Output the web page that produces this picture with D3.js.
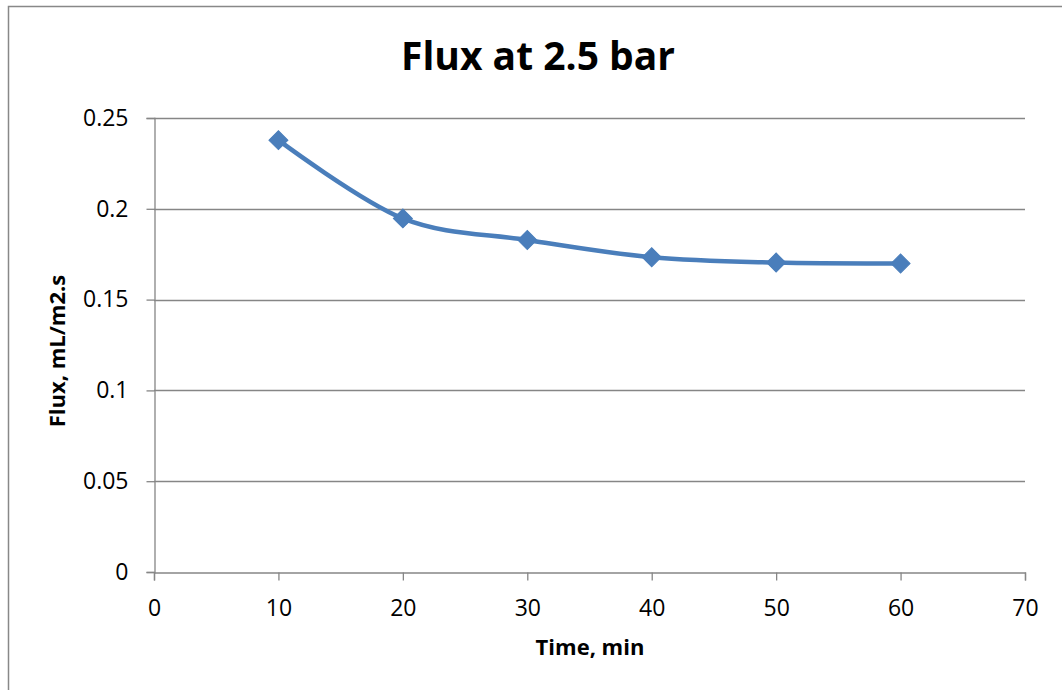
<!DOCTYPE html>
<html>
<head>
<meta charset="utf-8">
<script src="https://cdn.jsdelivr.net/npm/d3@7"></script>
<style>
  html, body { margin: 0; padding: 0; background: #fff; }
  svg { display: block; }
</style>
</head>
<body>
<svg id="chart" width="1062" height="690"></svg>
<script>
// Permeate flux measured over time at 2.5 bar
const timeMin = [10, 20, 30, 40, 50, 60];
const fluxValues = [0.2378, 0.1947, 0.1828, 0.1733, 0.1704, 0.1699];
const xTicks = [0, 10, 20, 30, 40, 50, 60, 70];
const yTicks = [0, 0.05, 0.1, 0.15, 0.2, 0.25];
const chartTitle = "Flux at 2.5 bar";
const xTitle = "Time, min";
const yTitle = "Flux, mL/m2.s";

const svg = d3.select("#chart");
const font = "'Open Sans', 'Noto Sans', sans-serif";
const gridColor = "#868686";
const lineColor = "#4a7ebb";

const plot = { left: 154, right: 1025, top: 118, bottom: 572 };

// Chart frame
svg.append("rect")
  .attr("x", 8.5).attr("y", 6.5)
  .attr("width", 1100).attr("height", 700)
  .attr("fill", "none")
  .attr("stroke", "#888").attr("stroke-width", 1.5);

const x = d3.scaleLinear().domain([0, 70]).range([plot.left, plot.right]);
const y = d3.scaleLinear().domain([0, 0.25]).range([plot.bottom, plot.top]);

// Horizontal gridlines
svg.append("g")
  .selectAll("line")
  .data(yTicks.filter(d => d > 0))
  .join("line")
  .attr("x1", plot.left).attr("x2", plot.right)
  .attr("y1", d => Math.round(y(d)) + 0.5).attr("y2", d => Math.round(y(d)) + 0.5)
  .attr("stroke", gridColor).attr("stroke-width", 1.3);

// Y axis
const yAxis = svg.append("g")
  .attr("transform", `translate(${plot.left + 0.5},0)`)
  .call(d3.axisLeft(y).tickValues(yTicks).tickFormat(d => String(+d.toFixed(2))).tickSize(8).tickPadding(18));
yAxis.select(".domain").attr("stroke", gridColor).attr("stroke-width", 1.3);
yAxis.selectAll(".tick line").attr("stroke", gridColor).attr("stroke-width", 1.3);
yAxis.selectAll(".tick text")
  .attr("font-family", font).attr("font-size", 23).attr("fill", "#000");

// X axis
const xAxis = svg.append("g")
  .attr("transform", `translate(0,${plot.bottom + 0.5})`)
  .call(d3.axisBottom(x).tickValues(xTicks).tickFormat(d3.format("d")).tickSize(8).tickPadding(19));
xAxis.select(".domain").attr("stroke", gridColor).attr("stroke-width", 1.3);
xAxis.selectAll(".tick line").attr("stroke", gridColor).attr("stroke-width", 1.3);
xAxis.selectAll(".tick text")
  .attr("font-family", font).attr("font-size", 23).attr("fill", "#000");

// Smoothed series line
const pts = timeMin.map((t, i) => [t, fluxValues[i]]);
const line = d3.line()
  .x(d => x(d[0])).y(d => y(d[1]))
  .curve(d3.curveCatmullRom.alpha(0));
svg.append("path")
  .datum(pts)
  .attr("d", line)
  .attr("fill", "none")
  .attr("stroke", lineColor)
  .attr("stroke-width", 4.5)
  .attr("stroke-linecap", "round");

// Diamond markers
svg.append("g")
  .selectAll("path")
  .data(pts)
  .join("path")
  .attr("d", d3.symbol(d3.symbolSquare, 180)())
  .attr("transform", d => `translate(${x(d[0])},${y(d[1])}) rotate(45)`)
  .attr("fill", lineColor)
  .attr("stroke", lineColor).attr("stroke-width", 1);

// Titles
svg.append("text")
  .attr("x", 538).attr("y", 70)
  .attr("text-anchor", "middle")
  .attr("font-family", font).attr("font-weight", "bold").attr("font-size", 39)
  .attr("fill", "#000")
  .text(chartTitle);

svg.append("text")
  .attr("x", 590).attr("y", 655)
  .attr("text-anchor", "middle")
  .attr("font-family", font).attr("font-weight", "bold").attr("font-size", 22)
  .attr("fill", "#000")
  .text(xTitle);

svg.append("text")
  .attr("transform", "translate(65,351) rotate(-90)")
  .attr("text-anchor", "middle")
  .attr("font-family", font).attr("font-weight", "bold").attr("font-size", 22)
  .attr("fill", "#000")
  .text(yTitle);
</script>
</body>
</html>
